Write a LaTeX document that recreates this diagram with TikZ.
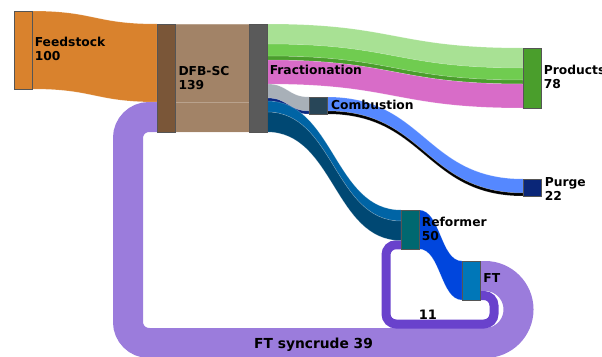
\documentclass[tikz,border=0pt]{standalone}
\usepackage{fontspec}
\setmainfont{DejaVu Sans}
\usetikzlibrary{calc}

\definecolor{edgegray}{RGB}{85,85,85}
\definecolor{orangeF}{RGB}{217,130,45}
\definecolor{dfbnode}{RGB}{122,86,56}
\definecolor{brownF}{RGB}{162,131,103}
\definecolor{fracnode}{RGB}{90,90,90}
\definecolor{lgreenF}{RGB}{168,225,148}
\definecolor{greenF}{RGB}{112,204,80}
\definecolor{dgreenF}{RGB}{74,158,44}
\definecolor{pinkF}{RGB}{216,108,200}
\definecolor{grayF}{RGB}{168,176,184}
\definecolor{navyF}{RGB}{10,40,130}
\definecolor{blueA}{RGB}{0,100,165}
\definecolor{blueB}{RGB}{0,72,115}
\definecolor{combnode}{RGB}{40,70,88}
\definecolor{purgeF}{RGB}{85,136,255}
\definecolor{purgenode}{RGB}{10,38,120}
\definecolor{refnode}{RGB}{0,104,112}
\definecolor{reftoft}{RGB}{0,70,221}
\definecolor{ftnode}{RGB}{0,119,184}
\definecolor{loopbig}{RGB}{155,124,220}
\definecolor{loopsmall}{RGB}{105,66,204}

\tikzset{
  unit/.style={draw=edgegray, line width=1pt, inner sep=0pt, outer sep=0pt,
    anchor=north west, minimum width=18pt},
  lbl/.style={font=\bfseries\fontsize{12.3}{14.5}\selectfont, anchor=base west,
    inner sep=0pt, align=left},
  flowband/.style={draw=white, draw opacity=.25, line width=.5pt},
}

% band between two vertical ports: (#1,#2) top/bottom of source, (#3,#4) top/bottom of target
\newcommand\sankeyband[5]{%
  \fill[flowband,fill=#5] let \p1=(#1), \p2=(#2), \p3=(#3), \p4=(#4) in
    (\p1) .. controls ({(\x1+\x3)/2},\y1) and ({(\x1+\x3)/2},\y3) .. (\p3)
    -- (\p4) .. controls ({(\x2+\x4)/2},\y4) and ({(\x2+\x4)/2},\y2) .. (\p2) -- cycle;}

\begin{document}
\begin{tikzpicture}[x=1pt,y=-1pt]
\useasboundingbox (0,0) rectangle (602,356);
\clip (0,0) rectangle (602,356);

% units (placed first so ports can be referenced; drawn again on top later)
\path
  (14,11)  node[unit, minimum height=78pt,  fill=orangeF]   (feed)  {}
  (157,24) node[unit, minimum height=108pt, fill=dfbnode]   (dfb)   {}
  (249,24) node[unit, minimum height=108pt, fill=fracnode]  (frac)  {}
  (523,48) node[unit, minimum height=60pt,  fill=dgreenF]   (prod)  {}
  (309,97) node[unit, minimum height=17pt,  fill=combnode]  (comb)  {}
  (523,179) node[unit, minimum height=17pt, fill=purgenode] (purge) {}
  (401,210) node[unit, minimum height=39pt, fill=refnode]   (ref)   {}
  (462,261) node[unit, minimum height=39pt, fill=ftnode]    (ft)    {};

% recycle loops
\coordinate (ftbig)   at ([yshift=-15pt]ft.north east);
\coordinate (dfbback) at ([yshift=-93pt]dfb.north west);
\coordinate (ftsmall) at ([yshift=-34.5pt]ft.north east);
\coordinate (refback) at ([yshift=-34.75pt]ref.north west);

\draw[loopbig, line width=30pt]
  (ftbig) -- (485,276) arc[start angle=-90, end angle=90, radius=33.5]
  -- (149,343) arc[start angle=90, end angle=180, radius=21]
  -- (128,138) arc[start angle=180, end angle=270, radius=21]
  -- (dfbback);
\draw[loopsmall, line width=9pt]
  (ftsmall) -- (484,295.5) arc[start angle=-90, end angle=0, radius=10]
  -- (494,314) arc[start angle=0, end angle=90, radius=10]
  -- (396,324) arc[start angle=90, end angle=180, radius=10]
  -- (386,254.75) arc[start angle=180, end angle=270, radius=10]
  -- (refback);

% feedstock into the gasifier
\sankeyband{feed.north east}{feed.south east}{dfb.north west}{[yshift=-78pt]dfb.north west}{orangeF}
% DFB-SC to fractionation
\sankeyband{dfb.north east}{[yshift=-78pt]dfb.north east}{frac.north west}{[yshift=-78pt]frac.north west}{brownF}
\sankeyband{[yshift=-78pt]dfb.north east}{dfb.south east}{[yshift=-78pt]frac.north west}{frac.south west}{brownF}

% fractionation outputs
\sankeyband{frac.north east}{[yshift=-20pt]frac.north east}{prod.north west}{[yshift=-20pt]prod.north west}{lgreenF}
\sankeyband{[yshift=-20pt]frac.north east}{[yshift=-32pt]frac.north east}{[yshift=-20pt]prod.north west}{[yshift=-32pt]prod.north west}{greenF}
\sankeyband{[yshift=-32pt]frac.north east}{[yshift=-36pt]frac.north east}{[yshift=-32pt]prod.north west}{[yshift=-36pt]prod.north west}{dgreenF}
\sankeyband{[yshift=-36pt]frac.north east}{[yshift=-60pt]frac.north east}{[yshift=-36pt]prod.north west}{prod.south west}{pinkF}
\sankeyband{[yshift=-60pt]frac.north east}{[yshift=-74pt]frac.north east}{comb.north west}{[yshift=-14pt]comb.north west}{grayF}
\sankeyband{[yshift=-74pt]frac.north east}{[yshift=-77pt]frac.north east}{[yshift=-14pt]comb.north west}{comb.south west}{navyF}
\sankeyband{[yshift=-77pt]frac.north east}{[yshift=-88pt]frac.north east}{ref.north west}{[yshift=-11pt]ref.north west}{blueA}
\sankeyband{[yshift=-88pt]frac.north east}{frac.south east}{[yshift=-11pt]ref.north west}{[yshift=-30.5pt]ref.north west}{blueB}

% combustion to purge
\sankeyband{comb.north east}{[yshift=-14pt]comb.north east}{purge.north west}{[yshift=-14pt]purge.north west}{purgeF}
\sankeyband{[yshift=-14pt]comb.north east}{comb.south east}{[yshift=-14pt]purge.north west}{purge.south west}{black}

% reformer to FT
\sankeyband{ref.north east}{ref.south east}{ft.north west}{ft.south west}{reftoft}

% units on top of the bands
\foreach \u/\c in {feed/orangeF, dfb/dfbnode, frac/fracnode, prod/dgreenF,
                   comb/combnode, purge/purgenode, ref/refnode, ft/ftnode}
  \draw[edgegray, line width=1pt, fill=\c] (\u.north west) rectangle (\u.south east);

% labels (base anchor of a two-line label sits on its second line)
\node[lbl] (feedL)  at (34.6,60.5)   {Feedstock\\100};
\node[lbl] (dfbL)   at (178.3,89.5)  {DFB-SC\\139};
\node[lbl] (fracL)  at (269.6,74)    {Fractionation};
\node[lbl] (combL)  at (331,109)     {Combustion};
\node[lbl] (prodL)  at (543.6,88.5)  {Products\\78};
\node[lbl] (purgeL) at (544.6,200.5) {Purge\\22};
\node[lbl] (refL)   at (421.6,240.5) {Reformer\\50};
\node[lbl] (ftL)    at (483.2,282.7) {FT};
\node[lbl, font=\bfseries\fontsize{13}{15}\selectfont] (smallL) at (418.7,319) {11};
\node[lbl, font=\bfseries\fontsize{13.8}{16}\selectfont] (bigL) at (254,348.3) {FT syncrude 39};
\end{tikzpicture}
\end{document}
